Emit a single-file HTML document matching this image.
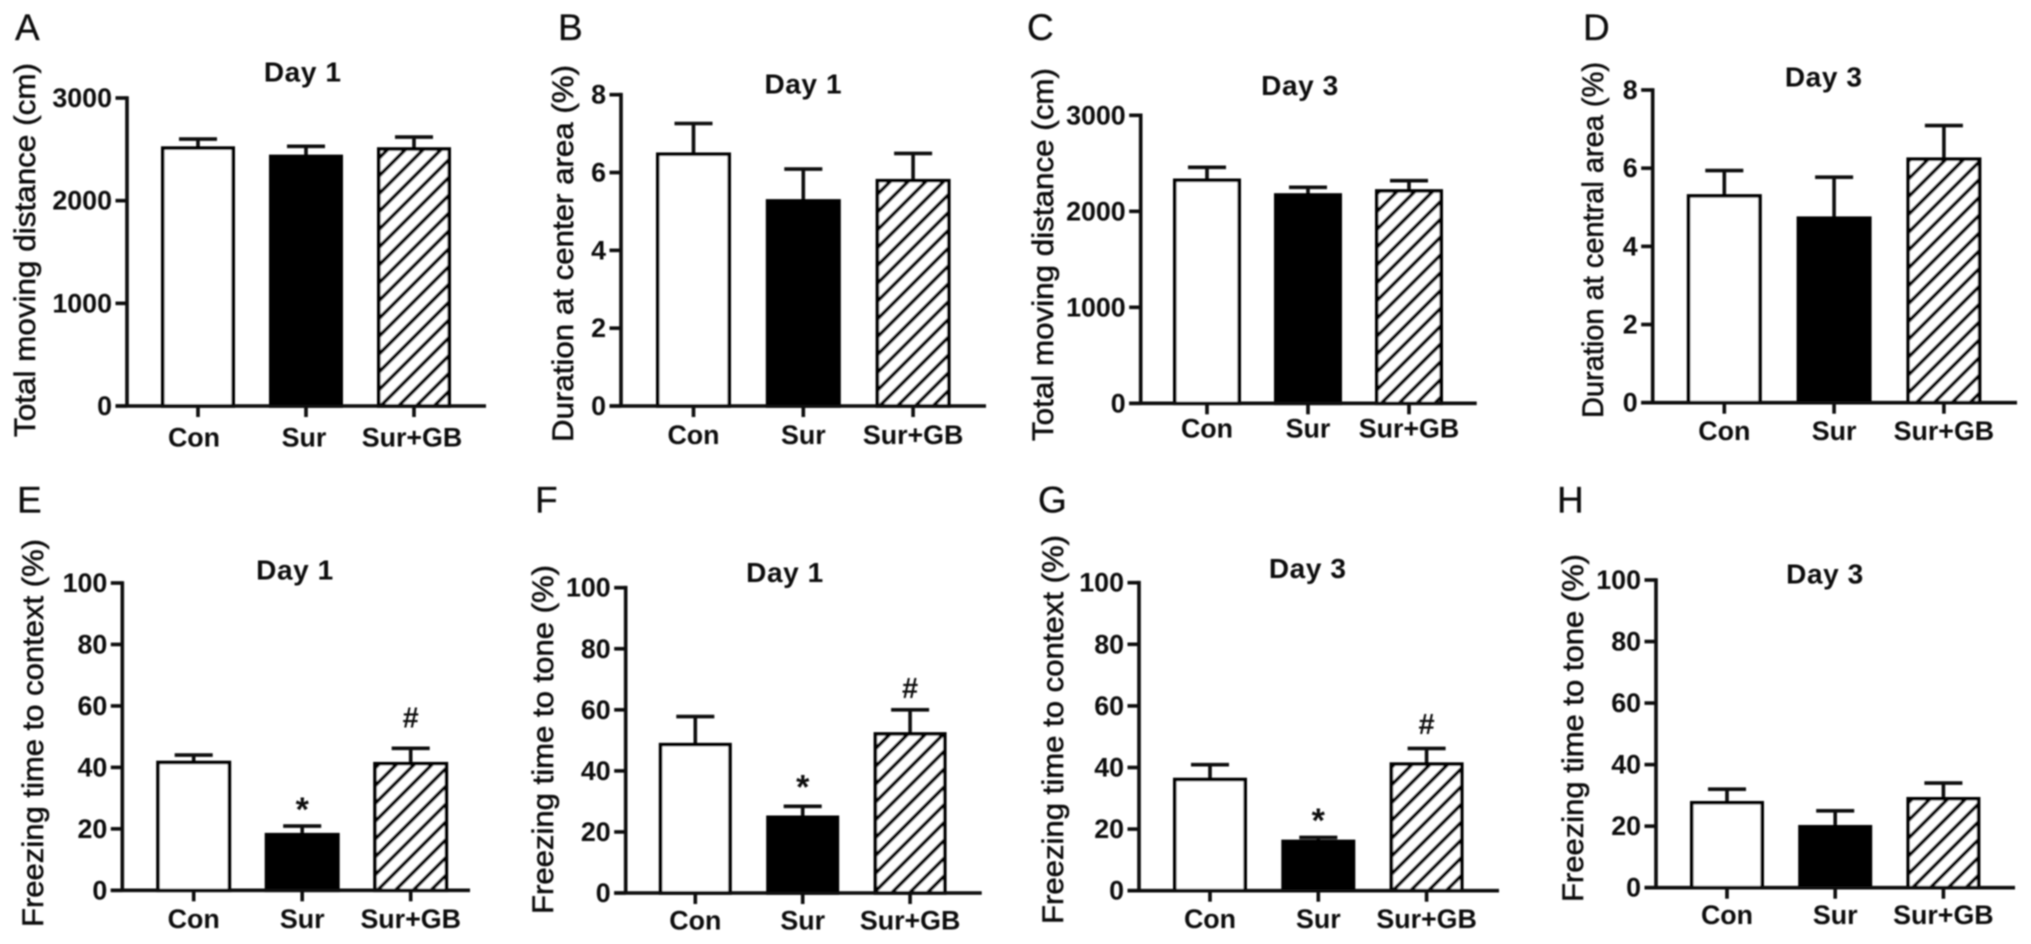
<!DOCTYPE html>
<html lang="en">
<head>
<meta charset="utf-8">
<title>Behavioural test bar charts</title>
<style>
html,body{margin:0;padding:0;background:#fff;width:2031px;height:944px;overflow:hidden}
svg{display:block}
text{font-family:"Liberation Sans",Arial,sans-serif;fill:#111}
.tick-label,.cat-label{font-weight:bold;font-size:26.8px}
.panel-title{font-weight:bold;font-size:28px;letter-spacing:.6px}
.y-title{font-size:30px;stroke:#111;stroke-width:.55px}
.panel-letter{font-size:37px;stroke:#111;stroke-width:.3px}
.annot{font-weight:bold}
</style>
</head>
<body>
<svg id="figure" xmlns="http://www.w3.org/2000/svg" width="2031" height="944" viewBox="0 0 2031 944">
<defs>
<pattern id="hatch" patternUnits="userSpaceOnUse" width="12.6" height="12.6" patternTransform="rotate(-45)">
<rect width="12.6" height="12.6" fill="#fff"/>
<rect width="12.6" height="3.6" fill="#000"/>
</pattern>
<filter id="soften" filterUnits="userSpaceOnUse" x="0" y="0" width="2031" height="944">
<feGaussianBlur stdDeviation="0.8"/>
</filter>
</defs>
<rect width="2031" height="944" fill="#fff"/>
<g id="root" filter="url(#soften)"></g>
</svg>
<script>
// ---- Data ----
const categories = ['Con', 'Sur', 'Sur+GB'];
const ticksDistance = [0, 1000, 2000, 3000];
const ticksDuration = [0, 2, 4, 6, 8];
const ticksFreezing = [0, 20, 40, 60, 80, 100];

const meansA = [2512, 2431, 2503];
const errorsA = [88, 98, 117];
const meansB = [6.47, 5.27, 5.79];
const errorsB = [0.79, 0.82, 0.70];
const meansC = [2323, 2170, 2212];
const errorsC = [135, 80, 107];
const meansD = [5.29, 4.72, 6.23];
const errorsD = [0.65, 1.05, 0.86];
const meansE = [41.6, 18.1, 41.2];
const errorsE = [2.4, 2.8, 5.0];
const meansF = [48.6, 24.8, 52.1];
const errorsF = [9.2, 3.6, 7.9];
const meansG = [36.1, 16.0, 41.1];
const errorsG = [4.8, 1.3, 5.1];
const meansH = [27.6, 19.8, 28.9];
const errorsH = [4.4, 5.2, 5.1];

const annotationsE = ['', '*', '#'];
const annotationsF = ['', '*', '#'];
const annotationsG = ['', '*', '#'];
const noAnnotations = ['', '', ''];

// ---- Panel wiring: text + data + layout geometry ----
const panels = [
 {letter:'A',title:'Day 1',yLabel:'Total moving distance (cm)',means:meansA,errors:errorsA,ticks:ticksDistance,notes:noAnnotations,
  box:{axisX:127,top:98,base:406,right:486,first:198,step:108,barW:74,letterX:15,letterY:40,titleX:302.7,titleY:81.7,yLabelX:35,yLabelStart:437,yLabelEnd:63,catDy:40.7,catDx:-4,starGap:24,hashGap:30}},
 {letter:'B',title:'Day 1',yLabel:'Duration at center area (%)',means:meansB,errors:errorsB,ticks:ticksDuration,notes:noAnnotations,
  box:{axisX:621,top:94.7,base:406,right:986,first:693.5,step:109.8,barW:75,letterX:558,letterY:40,titleX:803.3,titleY:93.3,yLabelX:573,yLabelStart:442,yLabelEnd:65,catDy:38,catDx:0,starGap:24,hashGap:30}},
 {letter:'C',title:'Day 3',yLabel:'Total moving distance (cm)',means:meansC,errors:errorsC,ticks:ticksDistance,notes:noAnnotations,
  box:{axisX:1140.7,top:115.3,base:403.3,right:1476.7,first:1207,step:101,barW:68,letterX:1027,letterY:40,titleX:1300,titleY:95,yLabelX:1053,yLabelStart:441,yLabelEnd:68,catDy:34.4,catDx:0,starGap:24,hashGap:30}},
 {letter:'D',title:'Day 3',yLabel:'Duration at central area (%)',means:meansD,errors:errorsD,ticks:ticksDuration,notes:noAnnotations,
  box:{axisX:1652.7,top:90,base:402.7,right:2017,first:1724.3,step:109.8,barW:75,letterX:1583,letterY:40,titleX:1823.7,titleY:86.7,yLabelX:1603,yLabelStart:418,yLabelEnd:62,catDy:37.3,catDx:0,starGap:24,hashGap:30}},
 {letter:'E',title:'Day 1',yLabel:'Freezing time to context (%)',means:meansE,errors:errorsE,ticks:ticksFreezing,notes:annotationsE,
  box:{axisX:122.3,top:583,base:890.3,right:470,first:193.7,step:108.5,barW:75,letterX:17,letterY:512.5,titleX:295,titleY:579.3,yLabelX:43,yLabelStart:927,yLabelEnd:539,catDy:37.7,catDx:0,starGap:24,hashGap:31}},
 {letter:'F',title:'Day 1',yLabel:'Freezing time to tone (%)',means:meansF,errors:errorsF,ticks:ticksFreezing,notes:annotationsF,
  box:{axisX:625.7,top:587.7,base:893,right:981.7,first:695.3,step:107.4,barW:73,letterX:535,letterY:512.5,titleX:785,titleY:582,yLabelX:553,yLabelStart:914,yLabelEnd:565,catDy:36.7,catDx:0,starGap:27,hashGap:22}},
 {letter:'G',title:'Day 3',yLabel:'Freezing time to context (%)',means:meansG,errors:errorsG,ticks:ticksFreezing,notes:annotationsG,
  box:{axisX:1139,top:582.7,base:890.7,right:1499,first:1210,step:108.3,barW:74,letterX:1038,letterY:512.5,titleX:1307.7,titleY:578,yLabelX:1063,yLabelStart:924,yLabelEnd:535,catDy:37.3,catDx:0,starGap:24.6,hashGap:24.6}},
 {letter:'H',title:'Day 3',yLabel:'Freezing time to tone (%)',means:meansH,errors:errorsH,ticks:ticksFreezing,notes:noAnnotations,
  box:{axisX:1656,top:580,base:887.7,right:2015,first:1727,step:108.2,barW:74,letterX:1557,letterY:512.5,titleX:1825,titleY:583.7,yLabelX:1583,yLabelStart:902,yLabelEnd:554,catDy:36.3,catDx:0,starGap:24,hashGap:30}}
];

const NS = 'http://www.w3.org/2000/svg';
const LINE = 3.6;
const root = document.getElementById('root');

function make(parent, tag, attrs, text) {
  const node = document.createElementNS(NS, tag);
  for (const key in attrs) node.setAttribute(key, attrs[key]);
  if (text !== undefined) node.textContent = text;
  parent.appendChild(node);
  return node;
}
function stroke(parent, x1, y1, x2, y2) {
  return make(parent, 'line', {x1: x1, y1: y1, x2: x2, y2: y2, stroke: '#0a0a0a', 'stroke-width': LINE});
}
function yScale(panel, value) {
  const max = panel.ticks[panel.ticks.length - 1];
  return panel.box.base - (value / max) * (panel.box.base - panel.box.top);
}
function xScale(panel, index) {
  return panel.box.first + index * panel.box.step;
}

const fills = ['#fff', '#000', 'url(#hatch)'];

panels.forEach(function (panel) {
  const b = panel.box;
  const tickLeft = b.axisX - 11.5;
  const g = make(root, 'g', {});
  
  

  const letter = make(g, 'text', {class: 'panel-letter', x: b.letterX, y: b.letterY}, panel.letter);
  
  

  const title = make(g, 'text', {class: 'panel-title', x: b.titleX, y: b.titleY, 'text-anchor': 'middle'}, panel.title);
  
  

  const yLabel = make(g, 'text', {
    class: 'y-title',
    transform: 'translate(' + b.yLabelX + ',' + b.yLabelStart + ') rotate(-90)',
    textLength: b.yLabelStart - b.yLabelEnd,
    lengthAdjust: 'spacingAndGlyphs'
  }, panel.yLabel);
  
  

  // bars and error bars
  categories.forEach(function (cat, i) {
    const cx = xScale(panel, i);
    const topY = yScale(panel, panel.means[i]);
    const errY = yScale(panel, panel.means[i] + panel.errors[i]);
    const key = cat.toLowerCase().replace('+', '-');

    const stem = stroke(g, cx, topY, cx, errY);
    
    
    const cap = stroke(g, cx - 19, errY, cx + 19, errY);
    
    

    const bar = make(g, 'rect', {
      x: cx - b.barW / 2 + LINE / 2,
      y: topY,
      width: b.barW - LINE,
      height: b.base - topY,
      fill: fills[i],
      stroke: '#000',
      'stroke-width': LINE
    });
    
    

    const mark = stroke(g, cx, b.base, cx, b.base + 11);
    
    

    const label = make(g, 'text', {class: 'cat-label', x: cx + (i === 0 ? b.catDx : b.catDx / 2), y: b.base + b.catDy, 'text-anchor': 'middle'}, cat);
    
    

    const note = panel.notes[i];
    if (note === '*') {
      const star = make(g, 'text', {class: 'annot', x: cx, y: errY - b.starGap + 19, 'font-size': 34, 'text-anchor': 'middle'}, note);
      
      
    } else if (note === '#') {
      const hash = make(g, 'text', {class: 'annot', x: cx, y: errY - b.hashGap + 10, 'font-size': 29, 'text-anchor': 'middle'}, note);
      
      
    }
  });

  // axes
  const yAxis = stroke(g, b.axisX, b.top - LINE / 2, b.axisX, b.base);
  
  
  const xAxis = stroke(g, tickLeft, b.base, b.right, b.base);
  
  

  panel.ticks.forEach(function (value) {
    const y = yScale(panel, value);
    const tick = stroke(g, tickLeft, y, b.axisX, y);
    
    
    const tickText = make(g, 'text', {class: 'tick-label', x: b.axisX - 15, y: y + 9, 'text-anchor': 'end'}, String(value));
    
    
  });
});
</script>
</body>
</html>
